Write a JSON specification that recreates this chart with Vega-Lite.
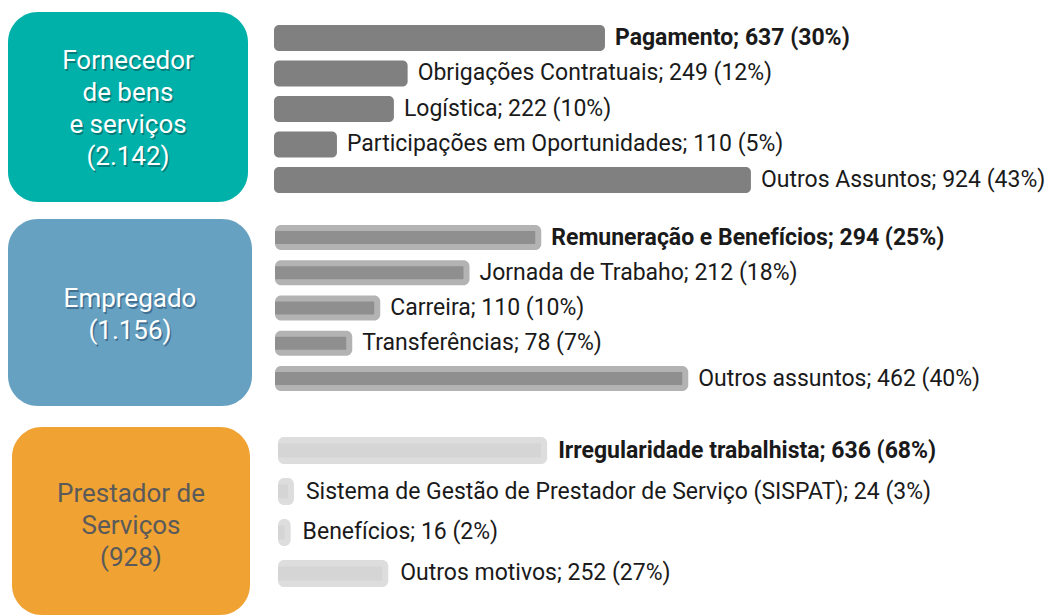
{
  "$schema": "https://vega.github.io/schema/vega-lite/v6.json",
  "padding": {"left": 8, "top": 12, "right": 0, "bottom": 0},
  "autosize": {"type": "pad"},
  "background": "#ffffff",
  "config": {"view": {"stroke": null}, "font": "Roboto"},
  "datasets": {
    "grupos": [
      {"grupo": "Fornecedor", "rotulo": "Fornecedor\nde bens\ne serviços\n(2.142)"},
      {"grupo": "Empregado", "rotulo": "Empregado\n(1.156)"},
      {"grupo": "Prestador", "rotulo": "Prestador de\nServiços\n(928)"}
    ],
    "itens": [
      {"grupo": "Fornecedor", "assunto": "Pagamento", "valor": 637, "pct": 30, "destaque": true, "rotulo": "Pagamento; 637 (30%)"},
      {"grupo": "Fornecedor", "assunto": "Obrigações Contratuais", "valor": 249, "pct": 12, "destaque": false, "rotulo": "Obrigações Contratuais; 249 (12%)"},
      {"grupo": "Fornecedor", "assunto": "Logística", "valor": 222, "pct": 10, "destaque": false, "rotulo": "Logística; 222 (10%)"},
      {"grupo": "Fornecedor", "assunto": "Participações em Oportunidades", "valor": 110, "pct": 5, "destaque": false, "rotulo": "Participações em Oportunidades; 110 (5%)"},
      {"grupo": "Fornecedor", "assunto": "Outros Assuntos", "valor": 924, "pct": 43, "destaque": false, "rotulo": "Outros Assuntos; 924 (43%)"},
      {"grupo": "Empregado", "assunto": "Remuneração e Benefícios", "valor": 294, "pct": 25, "destaque": true, "rotulo": "Remuneração e Benefícios; 294 (25%)"},
      {"grupo": "Empregado", "assunto": "Jornada de Trabaho", "valor": 212, "pct": 18, "destaque": false, "rotulo": "Jornada de Trabaho; 212 (18%)"},
      {"grupo": "Empregado", "assunto": "Carreira", "valor": 110, "pct": 10, "destaque": false, "rotulo": "Carreira; 110 (10%)"},
      {"grupo": "Empregado", "assunto": "Transferências", "valor": 78, "pct": 7, "destaque": false, "rotulo": "Transferências; 78 (7%)"},
      {"grupo": "Empregado", "assunto": "Outros assuntos", "valor": 462, "pct": 40, "destaque": false, "rotulo": "Outros assuntos; 462 (40%)"},
      {"grupo": "Prestador", "assunto": "Irregularidade trabalhista", "valor": 636, "pct": 68, "destaque": true, "rotulo": "Irregularidade trabalhista; 636 (68%)"},
      {"grupo": "Prestador", "assunto": "SISPAT", "valor": 24, "pct": 3, "destaque": false, "rotulo": "Sistema de Gestão de Prestador de Serviço (SISPAT); 24 (3%)"},
      {"grupo": "Prestador", "assunto": "Benefícios", "valor": 16, "pct": 2, "destaque": false, "rotulo": "Benefícios; 16 (2%)"},
      {"grupo": "Prestador", "assunto": "Outros motivos", "valor": 252, "pct": 27, "destaque": false, "rotulo": "Outros motivos; 252 (27%)"}
    ]
  },
  "spacing": 17,
  "vconcat": [
    {
      "spacing": 26,
      "hconcat": [
        {
          "width": 240, "height": 190,
          "data": {"name": "grupos"},
          "transform": [{"filter": "datum.grupo === 'Fornecedor'"}],
          "encoding": {
            "x": {"field": "grupo", "type": "nominal", "axis": null, "scale": {"paddingInner": 0, "paddingOuter": 0}},
            "y": {"field": "grupo", "type": "nominal", "axis": null, "scale": {"paddingInner": 0, "paddingOuter": 0}}
          },
          "layer": [
            {"mark": {"type": "rect", "color": "#00B1A9", "cornerRadius": 30}},
            {"mark": {"type": "text", "color": "rgba(0,60,60,0.45)", "dx": 1.5, "dy": -44.5, "fontSize": 26, "lineHeight": 32, "lineBreak": "\n", "align": "center", "baseline": "middle"}, "encoding": {"text": {"field": "rotulo"}}},
            {"mark": {"type": "text", "color": "#ffffff", "dy": -46, "fontSize": 26, "lineHeight": 32, "lineBreak": "\n", "align": "center", "baseline": "middle"}, "encoding": {"text": {"field": "rotulo"}}}
          ]
        },
        {
          "width": 712, "height": 190,
          "data": {"name": "itens"},
          "transform": [{"filter": "datum.grupo === 'Fornecedor'"}],
          "encoding": {
            "y": {"field": "assunto", "type": "nominal", "sort": null, "axis": null, "scale": {"paddingInner": 0.268, "paddingOuter": 0.31, "align": 0.59}},
            "x": {"field": "valor", "type": "quantitative", "axis": null, "scale": {"domain": [0, 1400]}}
          },
          "layer": [
            {"mark": {"type": "bar", "color": "#808080", "cornerRadiusEnd": 5, "x2Offset": -7}, "encoding": {"x2": {"datum": 0}}},
            {"transform": [{"filter": "datum.destaque"}], "mark": {"type": "text", "align": "left", "baseline": "middle", "dx": 10, "fontSize": 23, "fontWeight": "bold", "color": "#1a1a1a"}, "encoding": {"text": {"field": "rotulo"}}},
            {"transform": [{"filter": "!datum.destaque"}], "mark": {"type": "text", "align": "left", "baseline": "middle", "dx": 10, "fontSize": 23, "color": "#1a1a1a"}, "encoding": {"text": {"field": "rotulo"}}}
          ]
        }
      ]
    },
    {
      "spacing": 23,
      "hconcat": [
        {
          "width": 244, "height": 191,
          "data": {"name": "grupos"},
          "transform": [{"filter": "datum.grupo === 'Empregado'"}],
          "encoding": {
            "x": {"field": "grupo", "type": "nominal", "axis": null, "scale": {"paddingInner": 0, "paddingOuter": 0}},
            "y": {"field": "grupo", "type": "nominal", "axis": null, "scale": {"paddingInner": 0, "paddingOuter": 0.0107, "align": 0}}
          },
          "layer": [
            {"mark": {"type": "rect", "color": "#66A1C2", "cornerRadius": 30}},
            {"mark": {"type": "text", "color": "rgba(20,50,80,0.45)", "dx": 1.5, "dy": -11.5, "fontSize": 26, "lineHeight": 32, "lineBreak": "\n", "align": "center", "baseline": "middle"}, "encoding": {"text": {"field": "rotulo"}}},
            {"mark": {"type": "text", "color": "#ffffff", "dy": -13, "fontSize": 26, "lineHeight": 32, "lineBreak": "\n", "align": "center", "baseline": "middle"}, "encoding": {"text": {"field": "rotulo"}}}
          ]
        },
        {
          "width": 700, "height": 191,
          "data": {"name": "itens"},
          "transform": [{"filter": "datum.grupo === 'Empregado'"}],
          "encoding": {
            "y": {"field": "assunto", "type": "nominal", "sort": null, "axis": null, "scale": {"paddingInner": 0.29, "paddingOuter": 0.354, "align": 0.24}},
            "x": {"field": "valor", "type": "quantitative", "axis": null, "scale": {"domain": [0, 800]}}
          },
          "layer": [
            {"mark": {"type": "bar", "color": "#b3b3b3", "cornerRadiusEnd": 6, "x2Offset": -9}, "encoding": {"x2": {"datum": 0}}},
            {"mark": {"type": "bar", "color": "#8f8f8f", "cornerRadiusEnd": 1, "height": {"band": 0.52}, "xOffset": -6, "x2Offset": -9}, "encoding": {"x2": {"datum": 0}}},
            {"transform": [{"filter": "datum.destaque"}], "mark": {"type": "text", "align": "left", "baseline": "middle", "dx": 10, "fontSize": 23, "fontWeight": "bold", "color": "#1a1a1a"}, "encoding": {"text": {"field": "rotulo"}}},
            {"transform": [{"filter": "!datum.destaque"}], "mark": {"type": "text", "align": "left", "baseline": "middle", "dx": 10, "fontSize": 23, "color": "#1a1a1a"}, "encoding": {"text": {"field": "rotulo"}}}
          ]
        }
      ]
    },
    {
      "spacing": 28,
      "hconcat": [
        {
          "width": 242, "height": 188,
          "data": {"name": "grupos"},
          "transform": [{"filter": "datum.grupo === 'Prestador'"}],
          "encoding": {
            "x": {"field": "grupo", "type": "nominal", "axis": null, "scale": {"paddingInner": 0, "paddingOuter": 0.0084, "align": 1}},
            "y": {"field": "grupo", "type": "nominal", "axis": null, "scale": {"paddingInner": 0, "paddingOuter": 0}}
          },
          "layer": [
            {"mark": {"type": "rect", "color": "#F0A233", "cornerRadius": 30}},
            {"mark": {"type": "text", "color": "#5a5a5a", "fontSize": 26, "lineHeight": 32, "lineBreak": "\n", "align": "center", "baseline": "middle", "dy": -27}, "encoding": {"text": {"field": "rotulo"}}}
          ]
        },
        {
          "width": 662, "height": 170,
          "data": {"name": "itens"},
          "transform": [{"filter": "datum.grupo === 'Prestador'"}],
          "encoding": {
            "y": {"field": "assunto", "type": "nominal", "sort": null, "axis": null, "scale": {"paddingInner": 0.341, "paddingOuter": 0.244}},
            "x": {"field": "valor", "type": "quantitative", "axis": null, "scale": {"domain": [0, 1600]}}
          },
          "layer": [
            {"mark": {"type": "bar", "color": "#dddddd", "cornerRadiusEnd": 6, "x2Offset": -6}, "encoding": {"x2": {"datum": 0}}},
            {"mark": {"type": "bar", "color": "#d5d5d5", "cornerRadiusEnd": 1, "height": {"band": 0.52}, "xOffset": -6, "x2Offset": -6}, "encoding": {"x2": {"datum": 0}}},
            {"transform": [{"filter": "datum.destaque"}], "mark": {"type": "text", "align": "left", "baseline": "middle", "dx": 11, "fontSize": 23, "fontWeight": "bold", "color": "#1a1a1a"}, "encoding": {"text": {"field": "rotulo"}}},
            {"transform": [{"filter": "!datum.destaque"}], "mark": {"type": "text", "align": "left", "baseline": "middle", "dx": 12, "fontSize": 23, "color": "#1a1a1a"}, "encoding": {"text": {"field": "rotulo"}}}
          ]
        }
      ]
    }
  ]
}
